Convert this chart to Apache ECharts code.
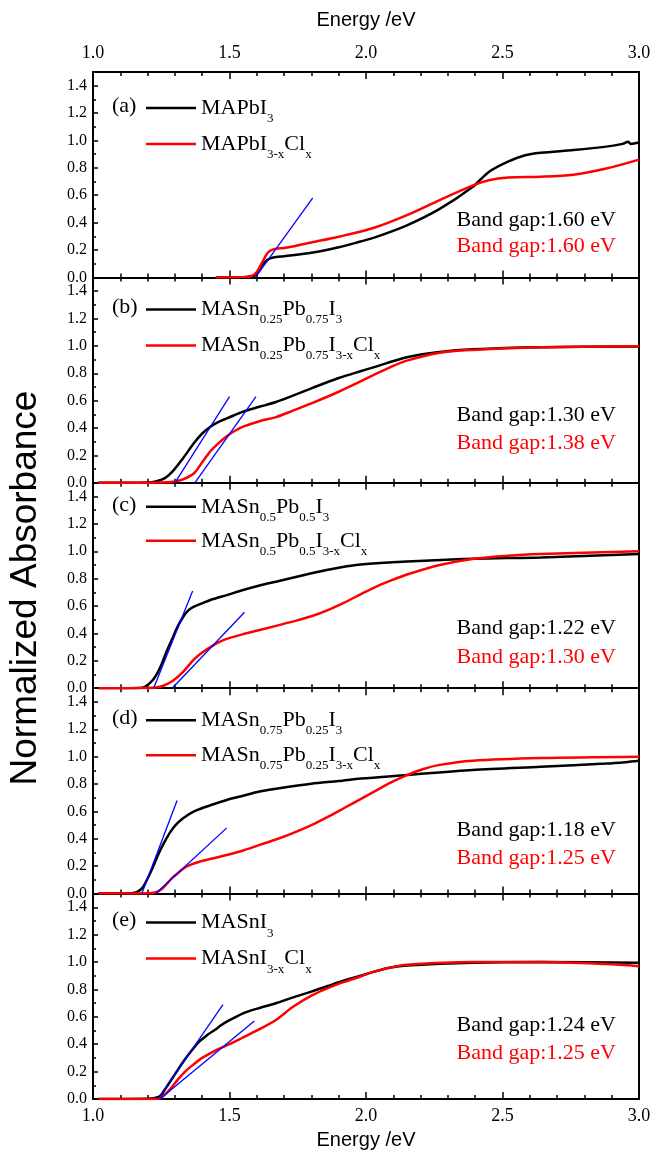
<!DOCTYPE html>
<html>
<head>
<meta charset="utf-8">
<script src="https://cdn.jsdelivr.net/npm/echarts@6/dist/echarts.min.js"></script>
<style>
html,body{margin:0;padding:0;background:#fff;}
#main{width:654px;height:1152px;}
</style>
</head>
<body>
<div id="main"></div>
<script>
// tick labels
var xTickValues = [1.0, 1.5, 2.0, 2.5, 3.0];
var yTickValues = [0.0, 0.2, 0.4, 0.6, 0.8, 1.0, 1.2, 1.4];

// panel texts
var panelLabels = ['(a)', '(b)', '(c)', '(d)', '(e)'];
var legendBlack = [
    '{n|MAPbI}{s|3}',
    '{n|MASn}{s|0.25}{n|Pb}{s|0.75}{n|I}{s|3}',
    '{n|MASn}{s|0.5}{n|Pb}{s|0.5}{n|I}{s|3}',
    '{n|MASn}{s|0.75}{n|Pb}{s|0.25}{n|I}{s|3}',
    '{n|MASnI}{s|3}'
];
var legendRed = [
    '{n|MAPbI}{s|3-x}{n|Cl}{s|x}',
    '{n|MASn}{s|0.25}{n|Pb}{s|0.75}{n|I}{s|3-x}{n|Cl}{s|x}',
    '{n|MASn}{s|0.5}{n|Pb}{s|0.5}{n|I}{s|3-x}{n|Cl}{s|x}',
    '{n|MASn}{s|0.75}{n|Pb}{s|0.25}{n|I}{s|3-x}{n|Cl}{s|x}',
    '{n|MASnI}{s|3-x}{n|Cl}{s|x}'
];
var gapBlack = ['1.60', '1.30', '1.22', '1.18', '1.24'];
var gapRed = ['1.60', '1.38', '1.30', '1.25', '1.25'];

// (a) MAPbI3 / MAPbI3-xClx
var aBlack = [[1.45,0],[1.50,0],[1.55,0],[1.58,0.005],[1.60,0.03],[1.62,0.09],[1.64,0.13],[1.66,0.145],[1.70,0.155],[1.80,0.18],[1.90,0.22],[1.98,0.262],[2.03,0.29],[2.15,0.38],[2.27,0.50],[2.39,0.66],[2.45,0.77],[2.52,0.845],[2.58,0.89],[2.64,0.91],[2.76,0.93],[2.88,0.955],[2.94,0.975],[2.96,0.99],[2.97,0.975],[3.0,0.985]];
var aRed = [[1.45,0],[1.50,0],[1.55,0.002],[1.58,0.01],[1.60,0.04],[1.62,0.11],[1.64,0.18],[1.66,0.205],[1.70,0.215],[1.73,0.225],[1.80,0.255],[1.90,0.297],[2.03,0.363],[2.15,0.455],[2.27,0.565],[2.39,0.67],[2.45,0.71],[2.52,0.73],[2.64,0.735],[2.76,0.75],[2.88,0.795],[3.0,0.86]];
// (b) Sn 0.25
var bBlack = [[1.02,0],[1.10,0],[1.20,0.002],[1.23,0.01],[1.26,0.03],[1.29,0.08],[1.33,0.18],[1.37,0.29],[1.40,0.36],[1.43,0.41],[1.46,0.445],[1.49,0.47],[1.55,0.52],[1.61,0.555],[1.67,0.59],[1.73,0.635],[1.80,0.69],[1.90,0.765],[1.98,0.815],[2.03,0.845],[2.15,0.917],[2.27,0.955],[2.39,0.975],[2.64,0.99],[3.0,0.995]];
var bRed = [[1.02,0],[1.10,0],[1.25,0.002],[1.30,0.01],[1.33,0.025],[1.37,0.07],[1.40,0.15],[1.43,0.23],[1.46,0.29],[1.49,0.34],[1.52,0.38],[1.55,0.41],[1.61,0.45],[1.67,0.48],[1.73,0.525],[1.80,0.58],[1.90,0.665],[1.98,0.74],[2.03,0.79],[2.09,0.845],[2.15,0.892],[2.27,0.95],[2.39,0.97],[2.64,0.99],[3.0,0.998]];
// (c) Sn 0.5
var cBlack = [[1.02,0],[1.10,0],[1.17,0.002],[1.19,0.01],[1.21,0.04],[1.23,0.09],[1.25,0.17],[1.27,0.27],[1.29,0.36],[1.31,0.45],[1.33,0.52],[1.35,0.57],[1.37,0.595],[1.40,0.62],[1.43,0.644],[1.49,0.68],[1.55,0.717],[1.61,0.75],[1.67,0.778],[1.80,0.84],[1.90,0.88],[1.98,0.903],[2.15,0.925],[2.39,0.945],[2.64,0.955],[3.0,0.98]];
var cRed = [[1.02,0],[1.10,0],[1.20,0.001],[1.23,0.005],[1.26,0.02],[1.29,0.05],[1.33,0.12],[1.37,0.21],[1.40,0.26],[1.43,0.30],[1.46,0.335],[1.49,0.36],[1.55,0.395],[1.61,0.425],[1.67,0.455],[1.73,0.486],[1.80,0.525],[1.86,0.57],[1.92,0.625],[1.98,0.685],[2.03,0.735],[2.09,0.785],[2.15,0.83],[2.27,0.90],[2.39,0.944],[2.52,0.968],[2.64,0.98],[3.0,1.0]];
// (d) Sn 0.75
var dBlack = [[1.02,0],[1.10,0],[1.14,0.002],[1.16,0.01],[1.18,0.04],[1.20,0.11],[1.22,0.196],[1.24,0.29],[1.26,0.37],[1.28,0.44],[1.30,0.495],[1.33,0.55],[1.37,0.60],[1.43,0.645],[1.49,0.684],[1.55,0.715],[1.61,0.745],[1.70,0.775],[1.80,0.803],[1.90,0.822],[1.98,0.84],[2.15,0.866],[2.39,0.903],[2.64,0.927],[2.88,0.95],[2.95,0.96],[3.0,0.97]];
var dRed = [[1.02,0],[1.10,0],[1.20,0.002],[1.23,0.01],[1.25,0.03],[1.27,0.07],[1.29,0.115],[1.32,0.165],[1.34,0.195],[1.37,0.22],[1.39,0.233],[1.49,0.282],[1.55,0.315],[1.61,0.356],[1.67,0.395],[1.73,0.44],[1.80,0.50],[1.86,0.56],[1.92,0.625],[1.98,0.69],[2.03,0.745],[2.09,0.81],[2.15,0.865],[2.21,0.91],[2.27,0.94],[2.39,0.97],[2.64,0.99],[3.0,1.0]];
// (e) MASnI3
var eBlack = [[1.02,0],[1.10,0],[1.20,0.001],[1.22,0.005],[1.245,0.02],[1.27,0.09],[1.30,0.18],[1.33,0.27],[1.36,0.35],[1.39,0.42],[1.42,0.47],[1.45,0.51],[1.47,0.54],[1.49,0.565],[1.55,0.626],[1.61,0.665],[1.67,0.699],[1.73,0.74],[1.80,0.784],[1.86,0.825],[1.92,0.865],[1.98,0.9],[2.03,0.93],[2.09,0.96],[2.15,0.975],[2.39,0.995],[2.64,1.0],[3.0,0.995]];
var eRed = [[1.02,0],[1.10,0],[1.22,0],[1.245,0.005],[1.28,0.066],[1.31,0.14],[1.34,0.205],[1.37,0.255],[1.40,0.3],[1.45,0.355],[1.50,0.40],[1.55,0.45],[1.61,0.51],[1.67,0.577],[1.73,0.67],[1.80,0.755],[1.86,0.81],[1.92,0.855],[1.98,0.895],[2.03,0.93],[2.09,0.96],[2.15,0.98],[2.39,1.0],[2.64,1.0],[2.88,0.985],[3.0,0.97]];

// tangent lines used for the band gap
var tangents = [
    [[[1.595,0],[1.805,0.58]]],
    [[[1.30,0],[1.50,0.63]], [[1.373,0],[1.597,0.63]]],
    [[[1.222,0],[1.365,0.71]], [[1.29,0],[1.555,0.555]]],
    [[[1.179,0],[1.308,0.68]], [[1.23,0],[1.49,0.48]]],
    [[[1.238,0],[1.476,0.69]], [[1.245,0],[1.591,0.57]]]
];

var blackData = [aBlack, bBlack, cBlack, dBlack, eBlack];
var redData = [aRed, bRed, cRed, dRed, eRed];

var SERIF = '"Liberation Serif", "Times New Roman", serif';
var SANS = '"Liberation Sans", Arial, sans-serif';
var LEFT = 93, RIGHT = 15, TOP = 72, H = 205.4;
var row1 = [36, 32, 24, 32, 29];
var row2 = [72, 68, 58, 67, 65];
var gapRow1 = [57, 68, 60, 63, 74];
var gapRow2 = [31, 40, 31, 35, 46];

function inList(list, v) {
    for (var i = 0; i < list.length; i++) {
        if (Math.abs(list[i] - v) < 1e-6) return true;
    }
    return false;
}

function makeXAxis(i, pos) {
    var showLabel = (pos === 'bottom' && i === 4) || (pos === 'top' && i === 0);
    var ax = {
        type: 'value', gridIndex: i, position: pos,
        min: 1, max: 3, interval: 0.5,
        axisLine: {show: true, onZero: false, lineStyle: {color: '#000', width: 2}},
        axisTick: {show: true, inside: true, length: 7, lineStyle: {color: '#000', width: 1.5}},
        minorTick: {show: true, splitNumber: 5, length: 4, lineStyle: {color: '#000', width: 1.5}},
        splitLine: {show: false},
        axisLabel: {
            show: showLabel, color: '#000', fontFamily: SERIF, fontSize: 18,
            margin: pos === 'top' ? 10 : 8,
            formatter: function (v) { return inList(xTickValues, v) ? v.toFixed(1) : ''; }
        }
    };
    if (showLabel) {
        ax.name = 'Energy /eV';
        ax.nameLocation = 'middle';
        ax.nameGap = pos === 'top' ? 42 : 31;
        ax.nameTextStyle = {color: '#000', fontFamily: SANS, fontSize: 20};
    }
    return ax;
}

function makeYAxis(i, pos) {
    if (pos === 'right') {
        return {
            type: 'value', gridIndex: i, position: 'right', min: 0, max: 1.5,
            axisLine: {show: true, lineStyle: {color: '#000', width: 2}},
            axisTick: {show: false}, axisLabel: {show: false}, splitLine: {show: false}
        };
    }
    return {
        type: 'value', gridIndex: i, position: 'left',
        min: 0, max: 1.5, interval: 0.2,
        axisLine: {show: true, onZero: false, lineStyle: {color: '#000', width: 2}},
        axisTick: {show: true, inside: true, length: 5, lineStyle: {color: '#000', width: 1.5}},
        minorTick: {show: true, splitNumber: 2, length: 3, lineStyle: {color: '#000', width: 1.5}},
        splitLine: {show: false},
        axisLabel: {
            color: '#000', fontFamily: SERIF, fontSize: 16, margin: 6, showMaxLabel: false,
            formatter: function (v) { return inList(yTickValues, v) ? v.toFixed(1) : ''; }
        }
    };
}

function richStyle() {
    return {
        n: {fontFamily: SERIF, fontSize: 22, lineHeight: 22, verticalAlign: 'top'},
        s: {fontFamily: SERIF, fontSize: 13, lineHeight: 13, padding: [15, 0, 0, 0], verticalAlign: 'top'}
    };
}

var grids = [], xAxes = [], yAxes = [], series = [], graphics = [];
for (var i = 0; i < 5; i++) {
    var panelTop = TOP + i * H;
    grids.push({left: LEFT, right: RIGHT, top: panelTop, height: H});
    xAxes.push(makeXAxis(i, 'bottom'));
    xAxes.push(makeXAxis(i, 'top'));
    yAxes.push(makeYAxis(i, 'left'));
    yAxes.push(makeYAxis(i, 'right'));

    series.push({type: 'line', xAxisIndex: 2 * i, yAxisIndex: 2 * i, data: blackData[i],
        showSymbol: false, smooth: 0.3, lineStyle: {color: '#000', width: 2.5}, z: 3});
    series.push({type: 'line', xAxisIndex: 2 * i, yAxisIndex: 2 * i, data: redData[i],
        showSymbol: false, smooth: 0.3, lineStyle: {color: '#ff0000', width: 2.5}, z: 4});
    for (var k = 0; k < tangents[i].length; k++) {
        series.push({type: 'line', xAxisIndex: 2 * i, yAxisIndex: 2 * i, data: tangents[i][k],
            showSymbol: false, lineStyle: {color: '#0000ff', width: 1.3}, z: 5});
    }

    // legend: panel label, line samples and names
    var y1 = panelTop + row1[i], y2 = panelTop + row2[i];
    graphics.push({type: 'text', x: 112, y: y1 - 2,
        style: {text: panelLabels[i], fill: '#000', fontFamily: SERIF, fontSize: 22, verticalAlign: 'middle'}});
    graphics.push({type: 'line', shape: {x1: 146, y1: y1, x2: 196, y2: y1}, style: {stroke: '#000', lineWidth: 2.5}});
    graphics.push({type: 'line', shape: {x1: 146, y1: y2, x2: 196, y2: y2}, style: {stroke: '#ff0000', lineWidth: 2.5}});
    graphics.push({type: 'text', x: 201, y: y1 - 11,
        style: {text: legendBlack[i], rich: richStyle(), fill: '#000', verticalAlign: 'top'}});
    graphics.push({type: 'text', x: 201, y: y2 - 11,
        style: {text: legendRed[i], rich: richStyle(), fill: '#000', verticalAlign: 'top'}});

    // band gap values
    var panelBottom = panelTop + H;
    graphics.push({type: 'text', x: 616, y: panelBottom - gapRow1[i],
        style: {text: 'Band gap:' + gapBlack[i] + ' eV', fill: '#000', fontFamily: SERIF, fontSize: 22,
            align: 'right', verticalAlign: 'middle'}});
    graphics.push({type: 'text', x: 616, y: panelBottom - gapRow2[i],
        style: {text: 'Band gap:' + gapRed[i] + ' eV', fill: '#ff0000', fontFamily: SERIF, fontSize: 22,
            align: 'right', verticalAlign: 'middle'}});
}

graphics.push({type: 'text', x: 26, y: 588, rotation: Math.PI / 2,
    style: {text: 'Normalized Absorbance', fill: '#000', fontFamily: SANS, fontSize: 37,
        align: 'center', verticalAlign: 'middle'}});

var chart = echarts.init(document.getElementById('main'));
chart.setOption({
    animation: false,
    backgroundColor: '#fff',
    grid: grids,
    xAxis: xAxes,
    yAxis: yAxes,
    series: series,
    graphic: graphics
});
</script>
</body>
</html>
